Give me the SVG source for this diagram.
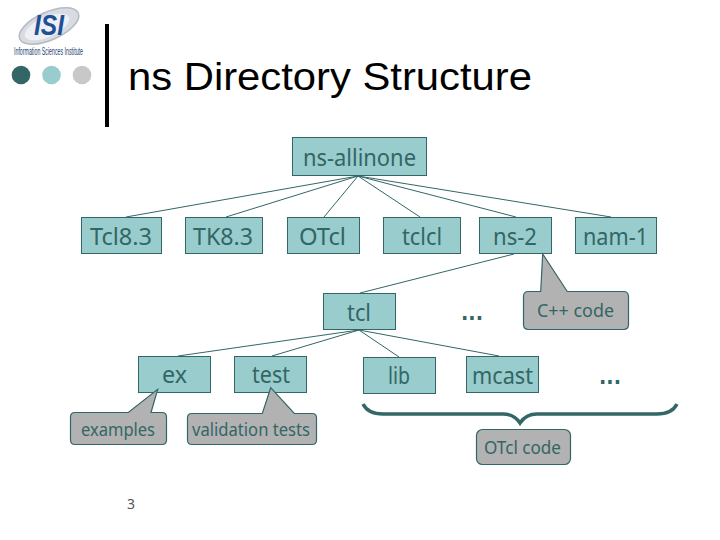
<svg xmlns="http://www.w3.org/2000/svg" width="720" height="540" viewBox="0 0 720 540">
<style>
.n{fill:#99cccc;stroke:#336666;stroke-width:1}
.c{fill:#b2b2b2;stroke:#336666;stroke-width:1.2}
.e{stroke:#336666;stroke-width:1;fill:none}
text{font-family:"Noto Sans","DejaVu Sans",sans-serif;fill:#336666;text-anchor:middle}
.l{font-size:24px}
.s{font-size:18px}
</style>
<rect width="720" height="540" fill="#fff"/>
<g id="logo">
<ellipse cx="49" cy="26" rx="32" ry="14" transform="rotate(-24 49 26)" fill="#d8dce2" stroke="#b4bac4" stroke-width="1.500"/>
<ellipse cx="47" cy="27" rx="24" ry="10" transform="rotate(-24 47 27)" fill="#edeff3"/>
<text x="49" y="35" style="font-family:'Liberation Sans',sans-serif;font-size:30px;font-weight:bold;font-style:italic;fill:#1f4f96" textLength="30" lengthAdjust="spacingAndGlyphs">ISI</text>
<text x="48.500" y="55" style="font-family:'Liberation Sans',sans-serif;font-size:10px;fill:#26406e" textLength="69" lengthAdjust="spacingAndGlyphs">Information Sciences Institute</text>
</g>
<g id="bullets">
<circle cx="21" cy="75" r="9.3" fill="#336666"/>
<circle cx="51.500" cy="75" r="9.3" fill="#99cccc"/>
<circle cx="82" cy="75" r="9.3" fill="#c8c8c8"/>
<rect x="105" y="24" width="4" height="103" fill="#000"/>
</g>
<g id="title"><text x="330" y="90" style="font-family:'Liberation Sans',sans-serif;font-size:38px;fill:#000" textLength="404" lengthAdjust="spacingAndGlyphs">ns Directory Structure</text></g>
<g id="connectors">
<path class="e" d="M358 176L126 217M358 176L226 217M358 176L324 217M358 176L420 217M358 176L516 217M358 176L611 217M514 254L360 293M359 330L178 356M359 330L272 356M359 330L399 357M359 330L499 356"/>
<path d="M363 404Q368 414 383 414H503Q514 414 520 423Q526 414 537 414H657Q672 414 677 404" fill="none" stroke="#336666" stroke-width="3.500"/>
</g>
<g id="ns-allinone"><rect class="n" x="292.500" y="137.500" width="134" height="38"/><text class="l" x="359.500" y="166" textLength="113" lengthAdjust="spacingAndGlyphs">ns-allinone</text></g>
<g id="tcl83"><rect class="n" x="81.500" y="217.500" width="80" height="36"/><text class="l" x="121" y="245" textLength="62" lengthAdjust="spacingAndGlyphs">Tcl8.3</text></g>
<g id="tk83"><rect class="n" x="185.500" y="217.500" width="77" height="36"/><text class="l" x="223" y="245" textLength="60" lengthAdjust="spacingAndGlyphs">TK8.3</text></g>
<g id="otcl"><rect class="n" x="287.500" y="217.500" width="72" height="36"/><text class="l" x="322.500" y="245" textLength="47" lengthAdjust="spacingAndGlyphs">OTcl</text></g>
<g id="tclcl"><rect class="n" x="383.500" y="217.500" width="77" height="36"/><text class="l" x="422" y="245" textLength="40" lengthAdjust="spacingAndGlyphs">tclcl</text></g>
<g id="ns-2"><rect class="n" x="479.500" y="217.500" width="72" height="36"/><text class="l" x="515" y="245" textLength="44" lengthAdjust="spacingAndGlyphs">ns-2</text></g>
<g id="nam-1"><rect class="n" x="575.500" y="217.500" width="81" height="36"/><text class="l" x="615.500" y="245" textLength="65" lengthAdjust="spacingAndGlyphs">nam-1</text></g>
<g id="tcl"><rect class="n" x="323.500" y="293.500" width="72" height="36"/><text class="l" x="359" y="321" textLength="24" lengthAdjust="spacingAndGlyphs">tcl</text></g>
<g id="dots1"><text x="472" y="320" style="font-family:'DejaVu Sans',sans-serif;font-size:22px;font-weight:bold" textLength="22" lengthAdjust="spacingAndGlyphs">...</text></g>
<g id="ex"><rect class="n" x="138.500" y="356.500" width="72" height="36"/><text class="l" x="174.500" y="383" textLength="25" lengthAdjust="spacingAndGlyphs">ex</text></g>
<g id="test"><rect class="n" x="234.500" y="356.500" width="72" height="36"/><text class="l" x="271" y="383" textLength="38" lengthAdjust="spacingAndGlyphs">test</text></g>
<g id="lib"><rect class="n" x="363.500" y="357.500" width="72" height="36"/><text class="l" x="399" y="384" textLength="22" lengthAdjust="spacingAndGlyphs">lib</text></g>
<g id="mcast"><rect class="n" x="466.500" y="356.500" width="72" height="36"/><text class="l" x="502.500" y="384" textLength="61" lengthAdjust="spacingAndGlyphs">mcast</text></g>
<g id="dots2"><text x="610" y="384" style="font-family:'DejaVu Sans',sans-serif;font-size:22px;font-weight:bold" textLength="22" lengthAdjust="spacingAndGlyphs">...</text></g>
<g id="cpp"><path class="c" d="M528 291.500H540.700L542.700 254L567.300 291.500H623.500Q628.500 291.500 628.500 296.500V324.500Q628.500 329.500 623.500 329.500H528.500Q523.500 329.500 523.500 324.500V296.500Q523.500 291.500 528 291.500Z"/><text class="s" x="575.500" y="317" textLength="77" lengthAdjust="spacingAndGlyphs">C++ code</text></g>
<g id="examples"><path class="c" d="M75 412.500H128.300L157.700 389.300L151 412.500H162Q166.500 412.500 166.500 417V440Q166.500 444.500 162 444.500H75Q70.500 444.500 70.500 440V417Q70.500 412.500 75 412.500Z"/><text class="s" x="118" y="436" textLength="74" lengthAdjust="spacingAndGlyphs">examples</text></g>
<g id="validation"><path class="c" d="M192 413.500H262.300L270.700 387.700L294.300 413.500H312Q316.500 413.500 316.500 418V440Q316.500 444.500 312 444.500H192Q187.500 444.500 187.500 440V418Q187.500 413.500 192 413.500Z"/><text class="s" x="251" y="436" textLength="118" lengthAdjust="spacingAndGlyphs">validation tests</text></g>
<g id="otcl-code"><rect class="c" x="476.500" y="429.500" width="94" height="35" rx="6"/><text class="s" x="522.500" y="454" textLength="77" lengthAdjust="spacingAndGlyphs">OTcl code</text></g>
<text x="131" y="509" style="font-size:14px;fill:#555">3</text>
</svg>
